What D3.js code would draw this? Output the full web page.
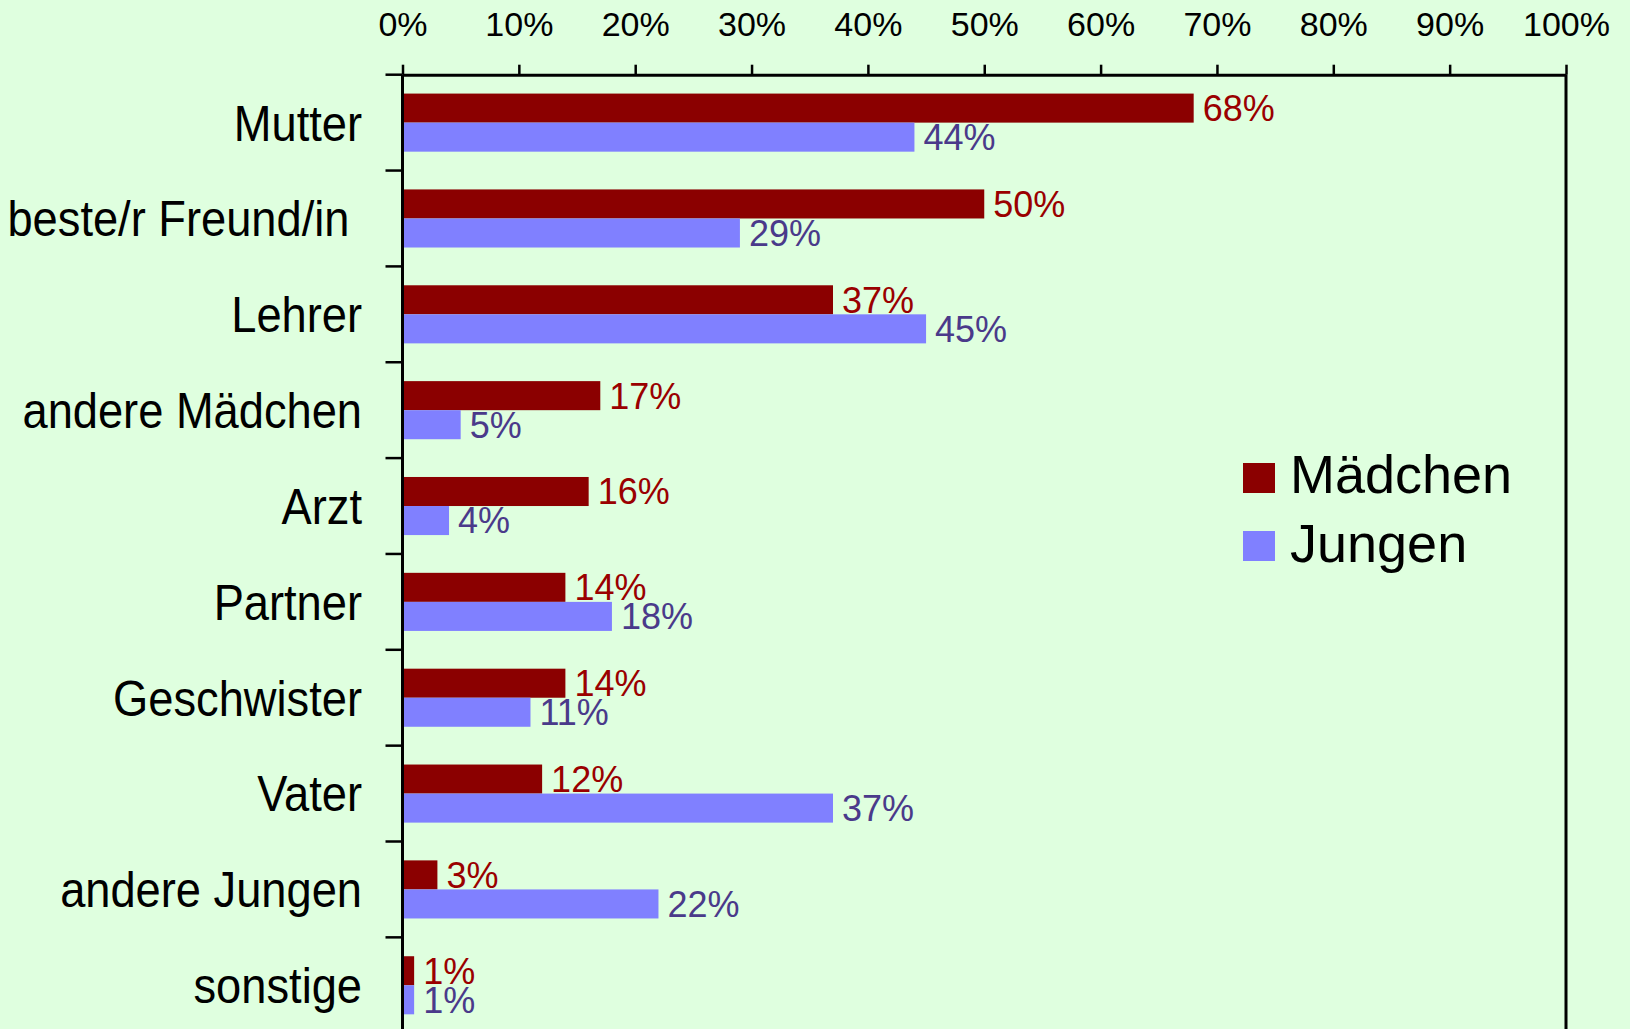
<!DOCTYPE html>
<html>
<head>
<meta charset="utf-8">
<script src="https://cdn.jsdelivr.net/npm/d3@7"></script>
<style>
  body { margin: 0; background: #dfffdf; }
  svg { display: block; font-family: "Liberation Sans", Arial, sans-serif; }
</style>
</head>
<body>
<script>
const w = 1630;
const h = 1029;

const categories = [
  "Mutter",
  "beste/r Freund/in ",
  "Lehrer",
  "andere Mädchen",
  "Arzt",
  "Partner",
  "Geschwister",
  "Vater",
  "andere Jungen",
  "sonstige"
];
const series = ["Mädchen", "Jungen"];
const maedchen = [68, 50, 37, 17, 16, 14, 14, 12, 3, 1];
const jungen = [44, 29, 45, 5, 4, 18, 11, 37, 22, 1];
const tickValues = [0, 10, 20, 30, 40, 50, 60, 70, 80, 90, 100];
const tickLabels = ["0%", "10%", "20%", "30%", "40%", "50%", "60%", "70%", "80%", "90%", "100%"];

const barColors = ["#8b0000", "#8080ff"];
const labelColors = ["#9a0000", "#4a3a8a"];

const plotLeft = 402.5;
const plotRight = 1566;
const plotTop = 74.7;
const plotBottom = 1033.2;

const svg = d3
  .select("body")
  .append("svg")
  .attr("width", w)
  .attr("height", h);

svg.append("rect").attr("width", w).attr("height", h).attr("fill", "#dfffdf");

const xScale = d3.scaleLinear().domain([0, 100]).range([plotLeft, plotRight]);
const yScale = d3
  .scaleBand()
  .domain(categories)
  .range([plotTop, plotBottom])
  .padding(0);
const ySub = d3
  .scaleBand()
  .domain(series)
  .range([0, yScale.bandwidth()])
  .paddingInner(0)
  .paddingOuter(0.65);

// bars
const rows = categories.map((c, i) => ({ cat: c, values: [maedchen[i], jungen[i]] }));

const groups = svg
  .selectAll("g.row")
  .data(rows)
  .enter()
  .append("g")
  .attr("class", "row")
  .attr("transform", d => "translate(0," + yScale(d.cat) + ")");

groups
  .selectAll("rect")
  .data(d => d.values.map((v, k) => ({ v: v, s: series[k], k: k })))
  .enter()
  .append("rect")
  .attr("x", xScale(0))
  .attr("y", d => ySub(d.s))
  .attr("width", d => xScale(d.v) - xScale(0))
  .attr("height", ySub.bandwidth())
  .attr("fill", d => barColors[d.k]);

// value labels
groups
  .selectAll("text")
  .data(d => d.values.map((v, k) => ({ v: v, s: series[k], k: k })))
  .enter()
  .append("text")
  .attr("x", d => xScale(d.v) + 9)
  .attr("y", d => ySub(d.s) + ySub.bandwidth() / 2)
  .attr("dy", "0.358em")
  .style("font-size", "36px")
  .attr("fill", d => labelColors[d.k])
  .text(d => d.v + "%");

// top axis
const xAxis = d3
  .axisTop(xScale)
  .tickValues(tickValues)
  .tickFormat((d, i) => tickLabels[i])
  .tickSize(10)
  .tickSizeOuter(0)
  .tickPadding(28.7);

const gx = svg
  .append("g")
  .attr("transform", "translate(0," + plotTop + ")")
  .call(xAxis);
gx.select(".domain").attr("stroke", "#000").attr("stroke-width", 3);
gx.selectAll(".tick line").attr("stroke", "#000").attr("stroke-width", 2.5);
gx.selectAll(".tick text")
  .attr("fill", "#000")
  .style("font-size", "34px")
  .style("font-family", "'Liberation Sans', Arial, sans-serif");

// left axis and right border
svg
  .append("line")
  .attr("x1", xScale(0))
  .attr("x2", xScale(0))
  .attr("y1", plotTop)
  .attr("y2", plotBottom)
  .attr("stroke", "#000")
  .attr("stroke-width", 3);
svg
  .append("line")
  .attr("x1", xScale(100))
  .attr("x2", xScale(100))
  .attr("y1", plotTop)
  .attr("y2", plotBottom)
  .attr("stroke", "#000")
  .attr("stroke-width", 3);

const boundaries = categories.map(c => yScale(c)).concat([yScale.range()[1]]);
svg
  .selectAll("line.ytick")
  .data(boundaries)
  .enter()
  .append("line")
  .attr("class", "ytick")
  .attr("x1", xScale(0) - 17)
  .attr("x2", xScale(0))
  .attr("y1", d => d)
  .attr("y2", d => d)
  .attr("stroke", "#000")
  .attr("stroke-width", 2.5);

// category labels
svg
  .selectAll("text.cat")
  .data(categories)
  .enter()
  .append("text")
  .attr("class", "cat")
  .attr("transform", d =>
    "translate(362," + (yScale(d) + yScale.bandwidth() / 2 + 17.9) + ") scale(0.905,1)"
  )
  .attr("text-anchor", "end")
  .style("white-space", "pre")
  .style("font-size", "50px")
  .attr("fill", "#000")
  .text(d => d);

// legend
const legend = svg.append("g").attr("transform", "translate(1243,463)");

legend
  .selectAll("rect")
  .data(series)
  .enter()
  .append("rect")
  .attr("x", 0)
  .attr("y", (d, i) => i * 68)
  .attr("width", 32)
  .attr("height", 30)
  .attr("fill", (d, i) => barColors[i]);

legend
  .selectAll("text")
  .data(series)
  .enter()
  .append("text")
  .attr("x", 47)
  .attr("y", (d, i) => 30 + i * 69)
  .style("font-size", "54px")
  .attr("fill", "#000")
  .text(d => d);
</script>
</body>
</html>
